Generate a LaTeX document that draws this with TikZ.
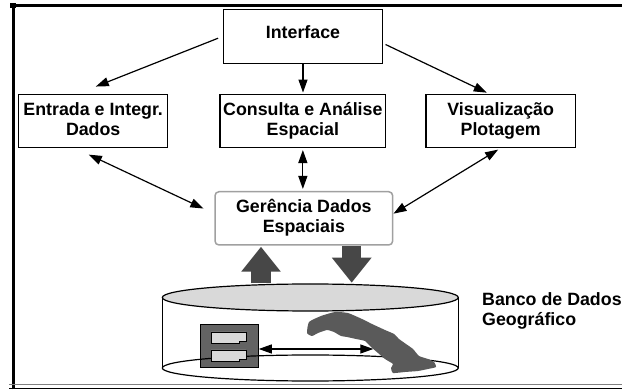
\documentclass[tikz,border=0pt]{standalone}
\usepackage{fontspec}
\setmainfont{Liberation Sans}
\usetikzlibrary{arrows.meta,calc}
\definecolor{cinzaborda}{HTML}{A0A0A0}
\definecolor{cinzaclaro}{HTML}{D9D9D9}
\definecolor{cinzaescuro}{HTML}{474747}
\definecolor{cinzamapa}{HTML}{5A5A5A}

\begin{document}
\begin{tikzpicture}[x=1pt,y=-1pt,
  texto/.style={font=\fontsize{17.8}{20}\selectfont\bfseries},
  caixa/.style={texto, draw, line width=1.2pt, align=center, inner sep=1pt, minimum height=53.3pt,
    execute at begin node={\rule{0pt}{19pt}}, execute at end node={\rule[-4pt]{0pt}{4pt}}},
  seta/.style={line width=1.2pt, -{Triangle[length=13pt,width=9pt]}},
  dupla/.style={line width=1.2pt, {Triangle[length=13pt,width=9pt]}-{Triangle[length=13pt,width=9pt]}},
  grossa/.style={cinzaescuro, line width=19.5pt, -{Triangle[length=25pt,width=38pt]}}]
  \useasboundingbox (0,0) rectangle (622,390);

  \fill (9.5,3.5) rectangle (16,8.5);
  \draw[line width=3pt] (13,389.5) -- (13,6) -- (622,6);
  \draw[line width=1.3pt, gray] (9,384.5) -- (622,384.5);
  \draw[line width=1.5pt] (9,388.5) -- (622,388.5);

  \node[texto, draw, line width=1.2pt, inner ysep=0pt, text height=29.5pt, text depth=24.3pt,
    minimum width=159.4pt] (iface) at (303,36.4) {Interface};
  \node[caixa, minimum width=149pt] (entrada) at (93.2,120.8) {Entrada e Integr.\\Dados};
  \node[caixa, minimum width=165.7pt] (consulta) at (302.85,120.8) {Consulta e Análise\\Espacial};
  \node[caixa, minimum width=149.4pt] (visual) at (500.7,120.8) {Visualização\\Plotagem};
  \node[caixa, draw=cinzaborda, line width=1.5pt, rounded corners=4pt, minimum width=177.7pt]
    (gerencia) at (303.85,218.35) {Gerência Dados\\Espaciais};

  \draw[seta, shorten <=5pt, shorten >=19pt] (iface.west) -- (entrada.119);
  \draw[seta, shorten >=1pt] (iface.south) -- (iface.south |- consulta.north);
  \draw[seta, shorten <=2.5pt, shorten >=2pt] (iface.-5) -- (visual.114);
  \draw[dupla, shorten <=15.5pt, shorten >=12pt] (entrada.236) -- (gerencia.177);
  \draw[dupla, shorten <=2pt, shorten >=2pt] (consulta.south) -- (consulta.south |- gerencia.north);
  \draw[dupla, shorten <=3pt] (visual.south) -- (gerencia.3);

  \coordinate (banco) at (310.3,297.5);
  \coordinate (fundo) at (310.3,368);
  \draw[line width=1.2pt] (162.3,297.5) -- (162.3,368) (458.3,297.5) -- (458.3,368);
  \filldraw[fill=cinzaclaro, line width=1.2pt] (banco) ellipse [x radius=148pt, y radius=13.5pt];
  \node[draw, fill=cinzaescuro!85!white, line width=0.9pt, inner sep=0pt, minimum width=57.6pt,
    minimum height=43pt] (tabela) at (229.5,345.8) {};
  \draw[line width=1.2pt] (fundo) ellipse [x radius=148pt, y radius=13pt];
  \filldraw[fill=cinzaclaro, line width=0.8pt] (211,332) -- (246,332) -- (246,341) -- (239,341)
    -- (239,343) -- (211,343) -- cycle;
  \filldraw[fill=cinzaclaro, line width=0.8pt] (211,350) -- (246,350) -- (246,359) -- (239,359)
    -- (239,361) -- (211,361) -- cycle;
  \fill[cinzamapa] plot[smooth cycle, tension=0.3] coordinates {(307,333) (309,322) (321,316)
    (335,312) (348,313) (362,319) (372,324) (385,330) (394,334) (399,339) (406,344) (413,349)
    (419,356) (428,359) (434,362) (436,367) (428,369) (418,371) (405,372) (393,373) (391,368)
    (393,364) (385,359) (378,353) (371,347) (365,341) (356,339) (347,337) (341,336) (334,332)
    (327,330) (318,333) (312,336)};
  \coordinate (mapa) at (373.3,349);
  \draw[dupla] (tabela.east |- mapa) -- (mapa);

  \coordinate (subida) at (261,283.5);
  \coordinate (descida) at (351.7,282.7);
  \draw[grossa, shorten >=1pt] (subida) -- (subida |- gerencia.south);
  \draw[grossa] (descida |- gerencia.south) -- (descida);

  \node[texto, align=left, anchor=west, inner sep=0pt] (rotulo) at (482,311.4) {Banco de Dados\\Geográfico};
\end{tikzpicture}
\end{document}
